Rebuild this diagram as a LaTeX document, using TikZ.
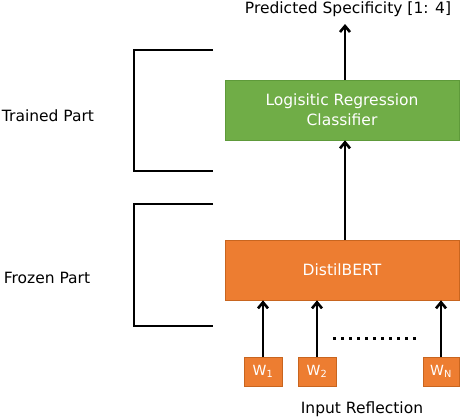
\documentclass[tikz,border=0pt]{standalone}
\usepackage{fontspec}
\setmainfont{DejaVu Sans}
\usetikzlibrary{arrows.meta}
\definecolor{ggreen}{HTML}{70AD47}
\definecolor{ggreenb}{HTML}{5E9A3A}
\definecolor{oorange}{HTML}{ED7D31}
\definecolor{oorangeb}{HTML}{C8651F}
\begin{document}
\begin{tikzpicture}[x=1pt,y=-1pt,
  lbl/.style={font=\fontsize{15.5}{18}\selectfont, text=black, inner sep=0pt},
  boxtxt/.style={font=\fontsize{15.5}{20}\selectfont, text=white, align=center},
  arr/.style={-{Straight Barb[length=6pt,width=10pt]}, line width=2.6pt},
  brk/.style={line width=2.7pt},
  wbox/.style={draw=oorangeb, fill=oorange, line width=0.5pt, minimum width=38pt, minimum height=29pt, inner sep=0pt, text=white, font=\fontsize{14}{16}\selectfont}]
\useasboundingbox (0,0) rectangle (460,418);
% main boxes
\node[draw=ggreenb, fill=ggreen, line width=0.6pt, minimum width=234pt, minimum height=60pt, inner sep=0pt, boxtxt] (lr) at (342,110) {Logisitic Regression\\Classifier};
\node[draw=oorangeb, fill=oorange, line width=0.6pt, minimum width=234pt, minimum height=60pt, inner sep=0pt, boxtxt] (db) at (342,270) {DistilBERT};
% output
\node[lbl, anchor=center] (out) at (348,9) {Predicted Specificity [1: 4]};
\coordinate (outtip) at (345,24);
\draw[arr] (lr.north -| outtip) -- (outtip);
\draw[arr] (db.north -| outtip) -- (lr.south -| outtip);
% word boxes
\node[wbox] (w1) at (263,371.5) {W\textsubscript{1}};
\node[wbox] (w2) at (317,371.5) {W\textsubscript{2}};
\node[wbox, minimum width=36pt] (wn) at (441,371.5) {W\textsubscript{N}};
\draw[arr] (w1.north) -- (w1.north |- db.south);
\draw[arr] (w2.north) -- (w2.north |- db.south);
\draw[arr] (wn.north) -- (wn.north |- db.south);
% dots
\coordinate (d1) at (333,338);
\coordinate (d2) at (416,338);
\draw[line width=3pt, dash pattern=on 3.2pt off 4.8pt] (d1) -- (d2);
\node[lbl] (inp) at (362,409) {Input Reflection};
% brackets
\coordinate (b1a) at (213,50);
\coordinate (b1b) at (213,171);
\coordinate (b2a) at (213,204);
\coordinate (b2b) at (213,326);
\draw[brk] (b1a) -- (134,50) -- (134,171) -- (b1b);
\draw[brk] (b2a) -- (134,204) -- (134,326) -- (b2b);
\node[lbl] (tp) at (48,116) {Trained Part};
\node[lbl] (fp) at (47,278) {Frozen Part};
\end{tikzpicture}
\end{document}
